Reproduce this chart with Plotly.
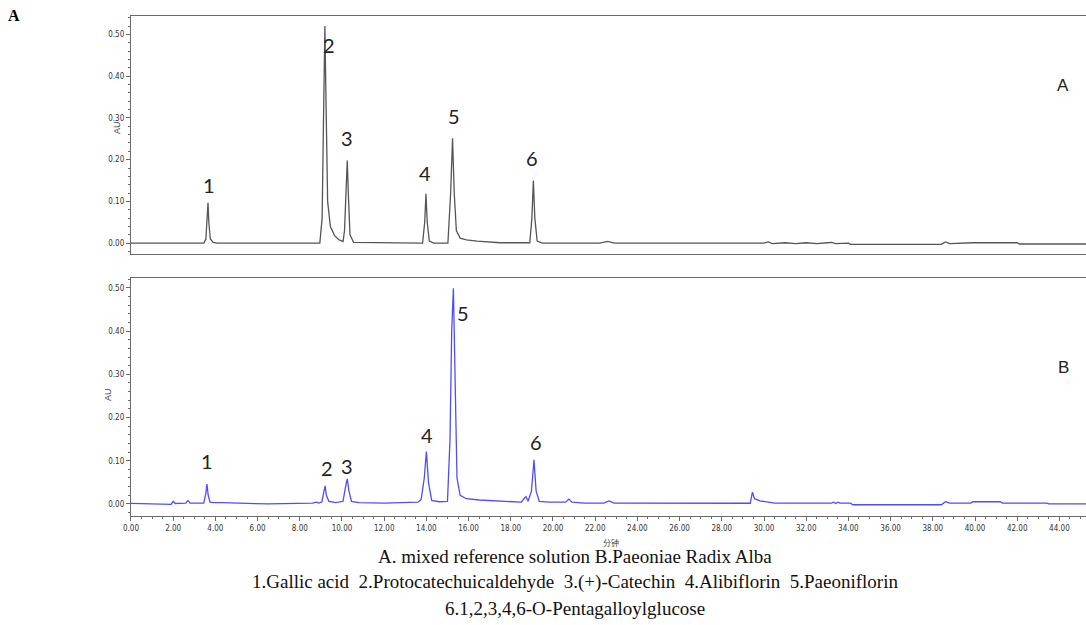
import plotly.graph_objects as go

# ---- Data ----
# A: mixed reference solution (gray)
time_a = [0.00, 3.45, 3.55, 3.62, 3.65, 3.69, 3.76, 3.90, 4.10,
          8.95, 9.06, 9.14, 9.19, 9.24, 9.32, 9.45, 9.65, 9.85, 10.05,
          10.12, 10.20, 10.25, 10.30, 10.38, 10.55,
          13.82, 13.92, 13.98, 14.04, 14.14, 14.35,
          15.02, 15.15, 15.24, 15.32, 15.42, 15.60, 15.90, 16.40, 17.00, 17.50,
          18.90, 19.00, 19.07, 19.14, 19.25, 19.50,
          22.20, 22.60, 22.90, 30.00, 30.20, 30.40, 31.00, 31.50, 32.00, 32.50,
          33.00, 33.20, 33.40, 34.00, 34.10, 38.40, 38.60, 38.80, 39.90, 42.00,
          42.10, 45.30]
au_a = [0.000, 0.000, 0.010, 0.060, 0.097, 0.050, 0.010, 0.002, 0.000,
        0.000, 0.060, 0.350, 0.520, 0.350, 0.100, 0.040, 0.018, 0.008, 0.004,
        0.030, 0.140, 0.198, 0.120, 0.020, 0.002,
        0.000, 0.050, 0.118, 0.050, 0.005, 0.000,
        0.000, 0.120, 0.251, 0.120, 0.030, 0.012, 0.008, 0.005, 0.003, 0.001,
        0.001, 0.060, 0.150, 0.060, 0.005, 0.000,
        0.000, 0.004, 0.000, 0.000, 0.003, -0.001, 0.001, -0.001, 0.001, -0.001,
        0.001, 0.002, -0.001, 0.000, -0.003, -0.003, 0.003, -0.001, 0.001, 0.001,
        -0.002, -0.002]

# B: Paeoniae Radix Alba (blue)
time_b = [0.00, 1.00, 1.90, 2.00, 2.10, 2.60, 2.70, 2.80, 3.45, 3.55, 3.60, 3.66,
          3.75, 3.90, 4.30, 5.50, 6.50, 8.60, 8.80, 8.90, 9.05, 9.15, 9.20, 9.26,
          9.38, 9.70, 10.05, 10.17, 10.25, 10.33, 10.45, 10.80, 12.00, 13.60,
          13.75, 13.90, 14.00, 14.10, 14.25, 14.60, 15.00, 15.12, 15.20, 15.28,
          15.36, 15.45, 15.60, 15.90, 16.50, 17.50, 18.50, 18.62, 18.72, 18.82,
          18.98, 19.10, 19.20, 19.35, 19.80, 20.60, 20.75, 20.90, 21.50, 22.40,
          22.65, 22.90, 24.00, 24.20, 25.00, 29.35, 29.45, 29.55, 29.80, 30.20,
          30.50, 33.20, 33.30, 33.40, 33.50, 33.60, 34.10, 34.20, 38.40, 38.60,
          38.80, 39.80, 39.90, 41.20, 41.30, 43.40, 43.50, 45.30]
au_b = [0.001, 0.000, -0.001, 0.006, 0.001, 0.002, 0.008, 0.002, 0.002, 0.025, 0.046, 0.020,
        0.004, 0.003, 0.003, 0.001, 0.000, 0.002, 0.004, 0.002, 0.005, 0.030, 0.042, 0.020,
        0.006, 0.003, 0.006, 0.040, 0.058, 0.030, 0.006, 0.003, 0.002, 0.004,
        0.010, 0.060, 0.121, 0.050, 0.008, 0.005, 0.006, 0.150, 0.400, 0.499,
        0.300, 0.060, 0.020, 0.012, 0.009, 0.006, 0.004, 0.012, 0.017, 0.006,
        0.030, 0.102, 0.030, 0.006, 0.004, 0.004, 0.011, 0.004, 0.002, 0.002,
        0.007, 0.002, 0.002, 0.003, 0.0015, 0.0015, 0.027, 0.012, 0.007, 0.005,
        0.002, 0.002, 0.004, 0.001, 0.004, 0.002, 0.002, -0.002, -0.002, 0.005,
        0.002, 0.002, 0.005, 0.005, 0.002, 0.002, 0.000, 0.000]

# Peak number labels (text, time, AU position)
peak_labels = ["1", "2", "3", "4", "5", "6"]
label_t_a = [3.70, 9.38, 10.24, 13.93, 15.30, 19.00]
label_y_a = [0.139, 0.475, 0.252, 0.168, 0.305, 0.204]
label_t_b = [3.60, 9.29, 10.24, 14.03, 15.73, 19.19]
label_y_b = [0.100, 0.083, 0.088, 0.160, 0.442, 0.144]

x_range = [0, 45.26]
tick_font = dict(family="Liberation Sans Narrow, DejaVu Sans Condensed, Arial, sans-serif",
                 size=8, color="#333333")
axis_color = "#6a6a6a"
peak_font = dict(family="Lato, Liberation Sans, sans-serif", size=20, color="#222222")

fig = go.Figure()
fig.add_trace(go.Scatter(x=time_a, y=au_a, mode="lines",
                         line=dict(color="#555555", width=1.3),
                         xaxis="x", yaxis="y", showlegend=False, hoverinfo="skip"))
fig.add_trace(go.Scatter(x=time_b, y=au_b, mode="lines",
                         line=dict(color="#4d4dff", width=1.3),
                         xaxis="x2", yaxis="y2", showlegend=False, hoverinfo="skip"))

annotations = []
for lab, t, y in zip(peak_labels, label_t_a, label_y_a):
    annotations.append(dict(x=t, y=y, xref="x", yref="y", text=lab, showarrow=False,
                            xanchor="center", yanchor="middle", font=peak_font))
for lab, t, y in zip(peak_labels, label_t_b, label_y_b):
    annotations.append(dict(x=t, y=y, xref="x2", yref="y2", text=lab, showarrow=False,
                            xanchor="center", yanchor="middle", font=peak_font))

def px(x, y, text, size, family, color="#222222", **kw):
    return dict(x=x / 1086, y=1 - y / 625, xref="paper", yref="paper", text=text,
                showarrow=False, xanchor="center", yanchor="middle",
                font=dict(size=size, family=family, color=color), **kw)

sans = "Liberation Sans, Arial, sans-serif"
serif = "Liberation Serif, Times New Roman, serif"
annotations += [
    px(1063, 85, "A", 17, sans),
    px(1063, 367, "B", 17, sans),
    px(117, 128, "AU", 9, sans, color="#444444", textangle=-90),
    px(108, 395, "AU", 9, sans, color="#444444", textangle=-90),
    px(611, 542, "分钟", 8, "Noto Sans CJK SC, sans-serif", color="#444444"),
    px(14, 16, "<b>A</b>", 16, serif, color="#000000"),
    px(575, 556, "A. mixed reference solution B.Paeoniae Radix Alba", 19, serif, color="#111111"),
    px(575, 582, "1.Gallic acid  2.Protocatechuicaldehyde  3.(+)-Catechin  4.Alibiflorin  5.Paeoniflorin",
       19, serif, color="#111111"),
    px(575, 608, "6.1,2,3,4,6-O-Pentagalloylglucose", 19, serif, color="#111111"),
]

common_y = dict(showline=True, linecolor=axis_color, linewidth=1.2, ticks="outside",
                ticklen=4, tickcolor=axis_color, dtick=0.1, tick0=0, tickformat=".2f",
                tickfont=tick_font, showgrid=False, zeroline=False, automargin=False,
                minor=dict(dtick=0.02, ticks="outside", ticklen=2, tickcolor=axis_color))

fig.update_layout(
    width=1086, height=625, margin=dict(l=0, r=0, t=0, b=0),
    paper_bgcolor="white", plot_bgcolor="white",
    xaxis=dict(domain=[0.1206, 1.0], range=x_range, anchor="y", showline=True, mirror=True,
               linecolor=axis_color, linewidth=1.2, showticklabels=False, ticks="",
               showgrid=False, zeroline=False, automargin=False),
    yaxis=dict(domain=[0.5936, 0.9749], range=[-0.026, 0.545], anchor="x", **common_y),
    xaxis2=dict(domain=[0.1206, 1.0], range=x_range, anchor="y2", showline=True, mirror=True,
                linecolor=axis_color, linewidth=1.2, ticks="outside", ticklen=4,
                tickcolor=axis_color, dtick=2, tick0=0, tickformat=".2f", tickfont=tick_font,
                showgrid=False, zeroline=False, automargin=False,
                minor=dict(dtick=0.5, ticks="outside", ticklen=2, tickcolor=axis_color)),
    yaxis2=dict(domain=[0.1744, 0.556], range=[-0.028, 0.524], anchor="x2", **common_y),
    annotations=annotations,
)

fig.write_html("out.html")
